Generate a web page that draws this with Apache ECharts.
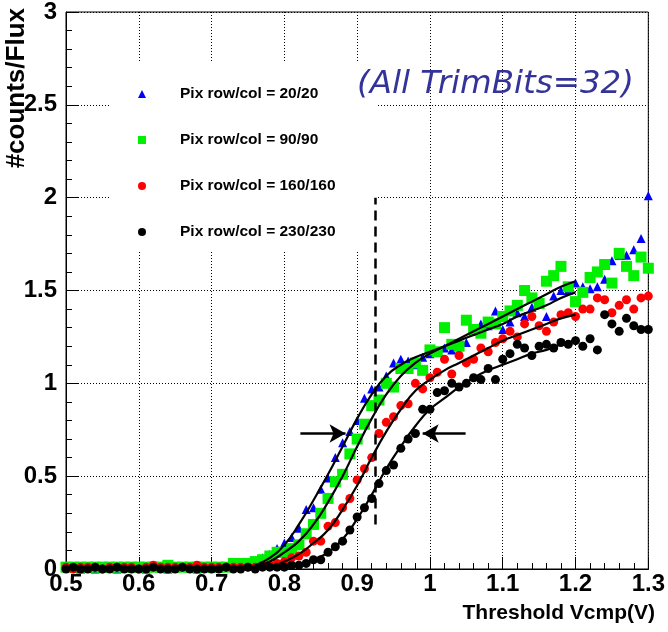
<!DOCTYPE html>
<html>
<head>
<meta charset="utf-8">
<script src="https://cdn.jsdelivr.net/npm/echarts@6/dist/echarts.min.js"></script>
<style>
html,body{margin:0;padding:0;background:#fff;}
#chart{width:668px;height:632px;}
</style>
</head>
<body>
<div id="chart"></div>
<script>
// Threshold voltage (V) for each measured point
const volts = [
  0.50,0.51,0.52,0.53,0.54,0.55,0.56,0.57,0.58,0.59,
  0.60,0.61,0.62,0.63,0.64,0.65,0.66,0.67,0.68,0.69,
  0.70,0.71,0.72,0.73,0.74,0.75,0.76,0.77,0.78,0.79,
  0.80,0.81,0.82,0.83,0.84,0.85,0.86,0.87,0.88,0.89,
  0.90,0.91,0.92,0.93,0.94,0.95,0.96,0.97,0.98,0.99,
  1.00,1.01,1.02,1.03,1.04,1.05,1.06,1.07,1.08,1.09,
  1.10,1.11,1.12,1.13,1.14,1.15,1.16,1.17,1.18,1.19,
  1.20,1.21,1.22,1.23,1.24,1.25,1.26,1.27,1.28,1.29,1.30
];
const pix20 = [
  0.01,0.01,0.00,0.01,0.00,0.01,0.01,0.00,0.01,0.01,
  0.01,0.00,0.01,0.01,0.00,0.01,0.01,0.01,0.00,0.01,
  0.01,0.01,0.01,0.02,0.02,0.03,0.04,0.06,0.08,0.11,
  0.14,0.17,0.22,0.32,0.33,0.43,0.49,0.60,0.68,0.74,
  0.80,0.92,0.97,0.98,1.04,1.11,1.13,1.12,1.10,1.14,
  1.16,1.17,1.19,1.18,1.17,1.22,1.28,1.32,1.31,1.39,
  1.29,1.33,1.38,1.36,1.41,1.43,1.36,1.47,1.50,1.50,
  1.54,1.52,1.51,1.52,1.56,1.66,1.69,1.69,1.72,1.78,2.01
];
const pix90 = [
  0.01,0.01,0.01,0.01,0.01,0.01,0.01,0.01,0.01,0.01,
  0.01,0.01,0.01,0.01,0.02,0.01,0.01,0.01,0.01,0.01,
  0.01,0.01,0.01,0.03,0.03,0.03,0.04,0.05,0.07,0.09,
  0.09,0.11,0.13,0.19,0.24,0.30,0.38,0.47,0.51,0.62,
  0.70,0.78,0.88,0.91,1.00,0.98,1.08,1.08,1.11,1.07,
  1.18,1.17,1.30,1.21,1.20,1.34,1.29,1.27,1.33,1.32,
  1.36,1.39,1.42,1.50,1.46,1.43,1.55,1.58,1.63,1.52,
  1.44,1.49,1.57,1.60,1.64,1.54,1.70,1.63,1.58,1.68,1.62
];
const pix160 = [
  0.01,0.00,0.01,0.01,0.01,0.00,0.01,0.01,0.01,0.01,
  0.00,0.01,0.02,0.01,0.01,0.01,0.01,0.01,0.02,0.01,
  0.01,0.01,0.01,0.01,0.01,0.01,0.01,0.02,0.02,0.03,
  0.04,0.06,0.07,0.09,0.15,0.15,0.23,0.25,0.33,0.38,
  0.48,0.54,0.60,0.73,0.79,0.82,0.88,0.89,1.00,0.97,
  1.03,1.06,1.13,1.05,1.15,1.11,1.13,1.19,1.17,1.22,
  1.24,1.28,1.25,1.32,1.36,1.31,1.28,1.33,1.37,1.38,
  1.36,1.40,1.40,1.46,1.45,1.38,1.42,1.45,1.40,1.46,1.47
];
const pix230 = [
  0.00,0.01,0.00,0.00,0.01,0.00,0.00,0.01,0.00,0.00,
  0.00,0.00,0.01,0.00,0.00,0.00,0.01,0.00,0.00,0.00,
  0.00,0.00,0.01,0.00,0.00,0.01,0.00,0.01,0.01,0.01,
  0.01,0.02,0.02,0.03,0.05,0.05,0.09,0.12,0.15,0.21,
  0.28,0.33,0.38,0.46,0.53,0.56,0.65,0.70,0.73,0.86,
  0.86,0.95,0.96,1.00,0.98,1.00,1.03,1.02,1.08,1.02,
  1.13,1.16,1.21,1.19,1.15,1.20,1.21,1.19,1.22,1.21,
  1.23,1.20,1.24,1.18,1.37,1.32,1.28,1.35,1.31,1.29,1.29
];
// Fitted curves
const fitVolts = [0.76,0.78,0.80,0.82,0.84,0.86,0.88,0.90,0.92,0.94,0.96,0.98,1.00,1.02,1.04,1.06,1.08,1.10,1.12,1.14,1.16,1.18,1.20];
const fit20  = [0.02,0.06,0.13,0.24,0.37,0.51,0.66,0.81,0.94,1.04,1.10,1.14,1.17,1.20,1.23,1.26,1.29,1.32,1.36,1.39,1.42,1.46,1.49];
const fit90  = [0.01,0.04,0.09,0.15,0.24,0.36,0.50,0.66,0.81,0.94,1.04,1.11,1.16,1.20,1.24,1.28,1.32,1.36,1.40,1.44,1.48,1.52,1.55];
const fit160 = [0.00,0.01,0.04,0.08,0.14,0.21,0.32,0.45,0.60,0.74,0.86,0.96,1.02,1.07,1.11,1.15,1.19,1.23,1.26,1.29,1.32,1.35,1.37];
const fit230 = [0.00,0.00,0.01,0.02,0.05,0.09,0.16,0.27,0.40,0.54,0.66,0.77,0.86,0.92,0.98,1.03,1.07,1.10,1.13,1.16,1.18,1.21,1.23];

const seriesNames = ['Pix row/col = 20/20','Pix row/col = 90/90','Pix row/col = 160/160','Pix row/col = 230/230'];
const xTicks = [0.5,0.6,0.7,0.8,0.9,1.0,1.1,1.2,1.3];
const yTicks = [0,0.5,1,1.5,2,2.5,3];
// Annotations (data coordinates)
const dashedX = 0.925, dashedY = [0.24, 2.0];
const arrowY = 0.73, leftArrow = [0.822, 0.884], rightArrow = [1.049, 0.990];

const pair = (xs, ys) => xs.map((x, i) => [x, ys[i]]);

const SANS = '"Liberation Sans", Arial, Helvetica, sans-serif';

const chart = echarts.init(document.getElementById('chart'), null, {renderer: 'canvas'});

function scatter(name, data, symbol, size, color) {
  return {
    name, type: 'scatter', data, symbol, symbolSize: size,
    itemStyle: {color: color, opacity: 1}, z: 3, animation: false
  };
}
function fitLine(data) {
  return {
    type: 'line', data, smooth: true, showSymbol: false, symbol: 'none',
    lineStyle: {color: '#000', width: 2.2}, z: 4, animation: false, silent: true
  };
}

const option = {
  backgroundColor: '#fff',
  animation: false,
  grid: {left: 66, right: 16, top: 11, bottom: 63, show: true, borderColor: '#000', borderWidth: 1, backgroundColor: 'transparent'},
  xAxis: {
    type: 'value', min: xTicks[0], max: xTicks[xTicks.length - 1], interval: 0.1,
    axisLine: {show: true, lineStyle: {color: '#000', width: 1}},
    axisTick: {show: true, inside: true, length: 12, lineStyle: {color: '#000', width: 1}},
    minorTick: {show: true, splitNumber: 5, length: 6, lineStyle: {color: '#000', width: 1}},
    splitLine: {show: true, lineStyle: {color: '#000', type: [1, 2], width: 1}},
    axisLabel: {color: '#000', fontFamily: SANS, fontWeight: 'bold', fontSize: 24, margin: 3}
  },
  yAxis: {
    type: 'value', min: yTicks[0], max: yTicks[yTicks.length - 1], interval: 0.5,
    axisLine: {show: true, lineStyle: {color: '#000', width: 1}},
    axisTick: {show: true, inside: true, length: 12, lineStyle: {color: '#000', width: 1}},
    minorTick: {show: true, splitNumber: 5, length: 6, lineStyle: {color: '#000', width: 1}},
    splitLine: {show: true, lineStyle: {color: '#000', type: [1, 2], width: 1}},
    axisLabel: {color: '#000', fontFamily: SANS, fontWeight: 'bold', fontSize: 24, margin: 9}
  },
  legend: {
    show: true, orient: 'vertical', left: 133, top: 79,
    itemWidth: 8, itemHeight: 8, itemGap: 26,
    data: seriesNames,
    textStyle: {color: '#000', fontFamily: SANS, fontWeight: 'bold', fontSize: 15.5, lineHeight: 20, padding: [0, 0, 0, 29]},
    selectedMode: false, z: 5
  },
  graphic: [
    {type: 'rect', z: 1, silent: true, shape: {x: 111, y: 63, width: 266, height: 187}, style: {fill: '#fff'}},
    {type: 'text', z: 6, x: 357, y: 85, style: {text: '(All TrimBits=32)', fill: '#333399', font: 'italic 32.5px "DejaVu Sans", Verdana, sans-serif', align: 'left', verticalAlign: 'middle'}},
    {type: 'text', z: 6, x: 655, y: 613, style: {text: 'Threshold Vcmp(V)', fill: '#000', font: 'bold 21px ' + SANS, align: 'right', verticalAlign: 'middle'}},
    {type: 'text', z: 6, x: 17, y: 8, rotation: Math.PI / 2, style: {text: '#counts/Flux', fill: '#000', font: 'bold 26px ' + SANS, align: 'right', verticalAlign: 'middle'}}
  ],
  series: [
    scatter(seriesNames[0], pair(volts, pix20), 'triangle', [9, 9], '#0000ff'),
    scatter(seriesNames[1], pair(volts, pix90), 'rect', 11, '#00f000'),
    scatter(seriesNames[2], pair(volts, pix160), 'circle', 9, '#ff0000'),
    scatter(seriesNames[3], pair(volts, pix230), 'circle', 9, '#000000'),
    fitLine(pair(fitVolts, fit20)),
    fitLine(pair(fitVolts, fit90)),
    fitLine(pair(fitVolts, fit160)),
    fitLine(pair(fitVolts, fit230)),
    {
      type: 'line', data: [], silent: true, animation: false, z: 5,
      markLine: {
        silent: true, animation: false, symbol: ['none', 'none'], label: {show: false},
        lineStyle: {color: '#000', width: 2.5, type: 'solid'},
        emphasis: {disabled: true},
        data: [
          [{coord: [dashedX, dashedY[0]], lineStyle: {color: '#000', width: 2.5, type: [10, 6]}}, {coord: [dashedX, dashedY[1]]}],
          [{coord: [leftArrow[0], arrowY], symbol: 'none'}, {coord: [leftArrow[1], arrowY], symbol: 'arrow', symbolSize: [14, 16]}],
          [{coord: [rightArrow[0], arrowY], symbol: 'none'}, {coord: [rightArrow[1], arrowY], symbol: 'arrow', symbolSize: [14, 16]}]
        ]
      }
    }
  ]
};
chart.setOption(option);
</script>
</body>
</html>
